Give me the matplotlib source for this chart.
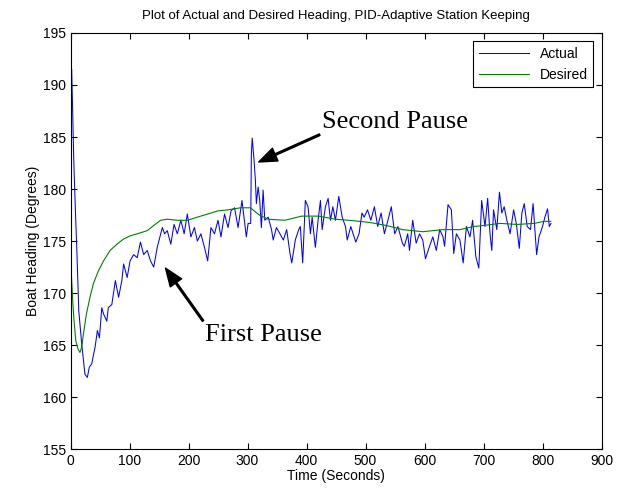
import matplotlib
matplotlib.use("Agg")
import matplotlib.pyplot as plt

# Actual heading (blue)
t_actual = [0, 2, 3.4, 5.7, 8.5, 11, 14, 17, 19, 22, 24.5, 28.5, 32, 36, 39, 41.6, 45.6, 49,
            53, 56, 61.5, 64, 70, 76, 81.5, 87, 90, 96, 101, 107, 113, 118.5, 124, 130,
            135.6, 141, 147, 151.6, 155.6, 159.5, 164, 170, 175.5, 181, 187, 192.6, 198,
            204, 210, 215, 221, 227, 232.5, 238, 244, 250, 255, 261, 267, 272, 278, 284,
            290.6, 298, 301, 305.4, 306.5, 308, 311, 313.3, 315, 318, 320.7, 323.5, 326.4,
            329.3, 335, 340.7, 343.5, 349, 355, 360.7, 366.4, 372, 375, 381, 386.7, 389.5,
            393.5, 398, 402.6, 406.6, 409.5, 415, 419.6, 423.6, 426.5, 432, 436.6, 440.6,
            444.6, 449, 454.7, 460.4, 466, 469, 475, 480.6, 483.5, 489, 494, 497.6, 503.4,
            509, 515, 520.7, 526.4, 532, 538, 543.7, 549.4, 555, 562.5, 565.8, 571.5, 574.5,
            580, 585.8, 591.5, 597, 601.6, 608.5, 614, 620, 625.7, 631.3, 634, 639.8, 645.5,
            649.5, 654, 660, 665.5, 671, 677, 681.5, 687, 692, 696.8, 702.5, 707, 711, 714,
            717, 722.5, 727, 731, 735, 739.5, 745, 751, 755.5, 760.6, 765, 769, 774, 779.6,
            784, 790, 794, 800, 804, 808.5, 811.5, 814.3]
actual = [191.0, 191.5, 187.9, 182.4, 177.6, 173.7, 168.3, 166.4, 165.1, 163.5, 162.2, 161.9,
          162.9, 163.2, 164.1, 164.8, 166.4, 165.7, 168.6, 168.0, 167.3, 168.6, 168.9, 171.2,
          169.6, 171.2, 172.8, 171.5, 173.1, 173.7, 173.4, 174.9, 173.7, 174.1, 173.1, 172.5,
          174.4, 175.4, 176.3, 175.7, 176.0, 174.7, 176.6, 175.7, 177.0, 175.7, 177.6, 175.4,
          176.3, 175.0, 175.7, 174.4, 173.1, 176.3, 175.7, 177.0, 175.4, 177.6, 176.3, 177.9,
          178.2, 176.3, 178.9, 175.4, 176.7, 176.7, 183.4, 184.9, 182.8, 180.9, 178.6, 180.2,
          178.9, 176.3, 179.9, 177.0, 177.3, 176.1, 175.1, 176.3, 175.7, 175.1, 176.1, 173.8,
          172.9, 175.1, 176.1, 176.4, 172.9, 178.9, 178.3, 175.7, 177.3, 174.4, 177.0, 178.9,
          176.1, 178.3, 179.1, 177.0, 178.3, 177.0, 179.3, 177.3, 176.4, 175.1, 176.4, 175.4,
          174.9, 175.7, 177.7, 177.3, 178.0, 177.0, 178.3, 176.4, 177.7, 175.7, 177.0, 178.3,
          175.7, 176.4, 174.8, 174.5, 175.7, 174.1, 177.0, 174.8, 175.7, 175.1, 173.3, 174.5,
          175.4, 174.1, 176.1, 175.4, 174.5, 178.5, 178.0, 173.8, 175.7, 175.1, 172.9, 176.4,
          175.4, 177.0, 173.5, 172.4, 178.9, 176.4, 179.1, 175.7, 174.1, 178.0, 176.1, 179.7,
          177.7, 178.3, 177.0, 175.7, 178.0, 176.7, 174.3, 177.7, 178.6, 176.4, 176.1, 178.6,
          173.7, 175.4, 176.4, 177.3, 178.1, 176.4, 176.7]

# Desired heading (green)
t_desired = [0, 0.5, 1, 2, 4, 6, 9, 13, 16, 19, 21.7, 27, 33, 38.7, 47, 56, 67, 78.6, 90, 101,
             113, 130, 141, 152.7, 164, 181, 198, 215, 232.5, 249.6, 266.7, 288, 305, 320,
             335, 363, 392, 420, 449, 472, 506, 535, 563, 597, 631, 660, 683, 700, 728, 757,
             786, 803, 814]
desired = [155.0, 176.0, 172.5, 171.2, 169.0, 167.3, 165.4, 164.6, 164.3, 164.8, 166.0, 168.0,
           169.6, 170.9, 172.1, 173.1, 174.1, 174.7, 175.2, 175.5, 175.7, 176.0, 176.5, 177.0,
           177.1, 177.0, 177.0, 177.3, 177.6, 177.9, 178.0, 178.2, 178.2, 177.5, 177.1, 177.0,
           177.4, 177.4, 177.1, 177.0, 176.8, 176.5, 176.1, 175.9, 176.1, 176.1, 176.4, 176.5,
           176.7, 176.6, 176.7, 176.9, 176.9]

plt.rcParams['font.family'] = ['Liberation Sans', 'DejaVu Sans']
plt.rcParams['font.size'] = 10

fig = plt.figure(figsize=(6.24, 4.92), dpi=100)
ax = fig.add_axes([0.113, 0.087, 0.851, 0.846])

ax.plot(t_actual, actual, color='#0000ff', lw=0.75, label='Actual')
ax.plot(t_desired, desired, color='#008000', lw=0.8, label='Desired')

ax.set_xlim(0, 900)
ax.set_ylim(155, 195)
ax.set_xticks(range(0, 901, 100))
ax.set_yticks(range(155, 196, 5))
ax.tick_params(direction='in', top=True, right=True, length=4, labelsize=10)

ax.set_xlabel('Time (Seconds)', fontsize=10, labelpad=1)
ax.set_ylabel('Boat Heading (Degrees)', fontsize=10, labelpad=2)
ax.set_title('Plot of Actual and Desired Heading, PID-Adaptive Station Keeping',
             fontsize=9.5, pad=10)

leg = ax.legend(loc='upper right', fontsize=10, fancybox=False, framealpha=1,
                edgecolor='black', handlelength=3.6, borderaxespad=0.6)
leg.get_frame().set_linewidth(0.8)

arrow = dict(facecolor='black', edgecolor='black', width=1.2, headwidth=10, headlength=13)
ax.annotate('Second Pause', xy=(319, 182.6), xytext=(427, 186.4), fontsize=19,
            family='Liberation Serif', va='center', arrowprops=arrow)
ax.annotate('First Pause', xy=(161, 172.4), xytext=(228, 166.0), fontsize=19,
            family='Liberation Serif', va='center', arrowprops=arrow)

fig.savefig('out.png', dpi=100)
